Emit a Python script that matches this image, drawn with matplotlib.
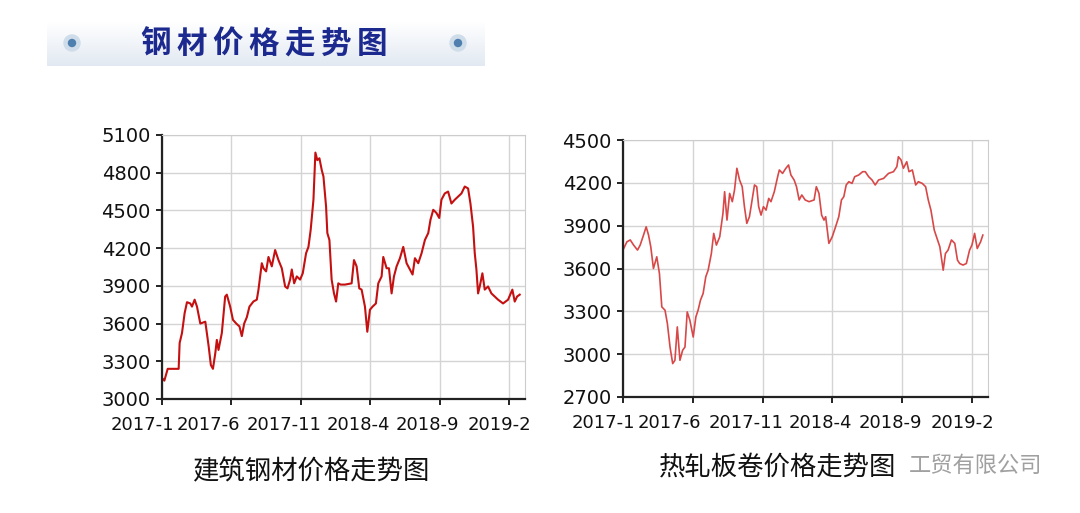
import matplotlib
matplotlib.use("Agg")
import matplotlib.pyplot as plt
from matplotlib.patches import Circle
from matplotlib.colors import LinearSegmentedColormap
from matplotlib.transforms import ScaledTranslation
import numpy as np

plt.rcParams['font.family'] = ['Noto Sans CJK SC', 'DejaVu Sans']

# months counted from 2017-1
tick_pos = [0, 5, 10, 15, 20, 25]
tick_labels = ['2017-1', '2017-6', '2017-11', '2018-4', '2018-9', '2019-2']

# 建筑钢材 price
rebar_m = [0.00, 0.17, 0.41, 1.20, 1.27, 1.44, 1.63, 1.80, 2.04, 2.16,
           2.35, 2.52, 2.76, 3.12, 3.36, 3.52, 3.67, 3.84, 3.95, 4.07,
           4.31, 4.55, 4.67, 4.91, 5.11, 5.35, 5.58, 5.75, 5.92, 6.11,
           6.30, 6.59, 6.83, 6.95, 7.19, 7.31, 7.50, 7.67, 7.91, 8.15,
           8.39, 8.63, 8.87, 9.04, 9.23, 9.35, 9.52, 9.71, 9.95, 10.14,
           10.38, 10.55, 10.71, 10.91, 11.05, 11.19, 11.34, 11.51, 11.63, 11.82,
           11.91, 12.06, 12.22, 12.39, 12.54, 12.70, 12.87, 13.18, 13.66, 13.83,
           14.02, 14.21, 14.38, 14.62, 14.79, 14.98, 15.17, 15.41, 15.58, 15.82,
           15.94, 16.18, 16.35, 16.54, 16.71, 16.90, 17.14, 17.38, 17.62, 17.86,
           18.05, 18.22, 18.46, 18.70, 18.94, 19.18, 19.34, 19.54, 19.77, 19.97,
           20.13, 20.37, 20.61, 20.85, 21.09, 21.33, 21.57, 21.81, 22.05, 22.22,
           22.41, 22.53, 22.65, 22.77, 22.89, 23.08, 23.25, 23.49, 23.73, 23.97,
           24.21, 24.57, 24.93, 25.24, 25.41, 25.58, 25.77]
rebar_p = [3167, 3146, 3240, 3240, 3445, 3525, 3683, 3770, 3760, 3735,
           3790, 3735, 3600, 3615, 3420, 3270, 3240, 3365, 3470, 3390,
           3525, 3815, 3830, 3735, 3630, 3600, 3577, 3500, 3600, 3650,
           3735, 3776, 3790, 3870, 4080, 4040, 4015, 4130, 4055, 4185,
           4105, 4040, 3895, 3880, 3950, 4030, 3920, 3975, 3950, 4000,
           4160, 4210, 4345, 4585, 4960, 4900, 4915, 4820, 4770, 4530,
           4320, 4265, 3950, 3840, 3775, 3920, 3910, 3910, 3920, 4105,
           4055, 3880, 3870, 3735, 3535, 3710, 3735, 3760, 3920, 3975,
           4130, 4040, 4040, 3840, 3975, 4055, 4120, 4210, 4080, 4030,
           3990, 4120, 4080, 4160, 4265, 4320, 4425, 4505, 4480, 4440,
           4585, 4635, 4650, 4555, 4585, 4610, 4635, 4690, 4675, 4555,
           4370, 4160, 4030, 3840, 3895, 4000, 3870, 3895, 3840, 3815,
           3790, 3760, 3790, 3870, 3775, 3815, 3830]

# 热轧板卷 price
hrc_m = [0.05, 0.28, 0.52, 0.76, 1.04, 1.23, 1.47, 1.66, 1.83, 1.99,
         2.18, 2.42, 2.61, 2.78, 3.01, 3.18, 3.37, 3.56, 3.72, 3.89,
         4.08, 4.27, 4.44, 4.60, 4.79, 5.03, 5.22, 5.38, 5.55, 5.74,
         5.93, 6.10, 6.33, 6.50, 6.69, 6.93, 7.16, 7.28, 7.45, 7.64,
         7.83, 7.99, 8.16, 8.35, 8.54, 8.70, 8.87, 9.06, 9.25, 9.42,
         9.58, 9.72, 9.89, 10.06, 10.25, 10.44, 10.60, 10.84, 11.08, 11.20,
         11.43, 11.67, 11.86, 12.03, 12.26, 12.43, 12.62, 12.81, 13.05, 13.33,
         13.69, 13.85, 14.04, 14.23, 14.40, 14.52, 14.75, 14.99, 15.23, 15.46,
         15.65, 15.82, 15.99, 16.18, 16.41, 16.60, 16.89, 17.17, 17.36, 17.60,
         17.84, 18.07, 18.31, 18.67, 19.02, 19.38, 19.62, 19.73, 19.92, 20.09,
         20.33, 20.49, 20.73, 20.97, 21.16, 21.44, 21.68, 21.87, 22.06, 22.30,
         22.46, 22.70, 22.94, 23.10, 23.29, 23.53, 23.77, 23.96, 24.12, 24.36,
         24.60, 24.83, 25.00, 25.19, 25.38, 25.62, 25.78]
hrc_p = [3740, 3787, 3800, 3764, 3729, 3764, 3834, 3892, 3834, 3752,
         3600, 3682, 3565, 3331, 3308, 3214, 3050, 2934, 2957, 3191,
         2957, 3027, 3050, 3296, 3238, 3120, 3261, 3308, 3378, 3425,
         3542, 3588, 3705, 3846, 3764, 3822, 3986, 4138, 3939, 4126,
         4068, 4150, 4302, 4220, 4173, 4033, 3916, 3963, 4080, 4185,
         4173, 4033, 3974, 4033, 4009, 4091, 4068, 4138, 4243, 4290,
         4266, 4302, 4325, 4255, 4220, 4173, 4080, 4115, 4080, 4068,
         4080, 4173, 4126, 3974, 3939, 3963, 3776, 3822, 3892, 3963,
         4080, 4103, 4185, 4208, 4196, 4243, 4255, 4278, 4278, 4243,
         4220, 4185, 4220, 4231, 4266, 4278, 4313, 4383, 4360, 4302,
         4348, 4278, 4290, 4185, 4208, 4196, 4173, 4080, 4009, 3869,
         3822, 3752, 3588, 3705, 3729, 3800, 3776, 3659, 3635, 3624,
         3635, 3729, 3764, 3846, 3740, 3787, 3834]

fig = plt.figure(figsize=(10.8, 5.13), dpi=100)
fig.patch.set_facecolor('white')

# banner
bx = fig.add_axes([47/1080, 1-66/513, 438/1080, 44/513])
grad = np.linspace(0, 1, 100).reshape(-1, 1)
bx.imshow(grad, aspect='auto', cmap=LinearSegmentedColormap.from_list('b', ['#ffffff', '#e2e9f2']),
          extent=[0, 438, 0, 44])
bx.set_xlim(0, 438)
bx.set_ylim(0, 44)
bx.axis('off')
for cx in [25, 411]:
    bx.add_patch(Circle((cx, 23), 8, color='#cfdcea'))
    bx.add_patch(Circle((cx, 23), 3.5, color='#4f7fae'))
for i, ch in enumerate('钢材价格走势图'):
    bx.text(109 + 36*i, 22, ch, ha='center', va='center', fontsize=22, fontweight='bold', color='#1c2a8f')

# shift of x tick labels (pixels), reference labels sit left of their ticks
lab_shift = [-20, -23, -17, -12, -12, -10]


def style(ax, ylim, yticks):
    ax.set_xlim(0, 26.15)
    ax.set_ylim(*ylim)
    ax.set_yticks(yticks)
    ax.set_xticks(tick_pos)
    ax.set_xticklabels(tick_labels)
    ax.grid(True, color='#d4d4d4', lw=1)
    ax.set_axisbelow(True)
    for s in ['top', 'right']:
        ax.spines[s].set_color('#cccccc')
    for s in ['left', 'bottom']:
        ax.spines[s].set_color('#222222')
        ax.spines[s].set_linewidth(1.6)
    ax.tick_params(axis='both', direction='out', length=4, width=1.4, color='#222222',
                   labelcolor='#111111')
    ax.tick_params(axis='x', pad=8, labelsize=13)
    ax.tick_params(axis='y', pad=4, labelsize=14)
    for t in ax.get_xticklabels() + ax.get_yticklabels():
        t.set_family('DejaVu Sans')
    for t, d in zip(ax.get_xticklabels(), lab_shift):
        t.set_transform(t.get_transform() + ScaledTranslation(d/100, 0, fig.dpi_scale_trans))


ax1 = fig.add_axes([162/1080, 1-399/513, 363/1080, 264/513])
ax1.plot(rebar_m, rebar_p, color='#c41010', lw=1.5)
style(ax1, (3000, 5100), [3000, 3300, 3600, 3900, 4200, 4500, 4800, 5100])

ax2 = fig.add_axes([623/1080, 1-397/513, 365/1080, 257/513])
ax2.plot(hrc_m, hrc_p, color='#d84848', lw=1.2)
style(ax2, (2700, 4500), [2700, 3000, 3300, 3600, 3900, 4200, 4500])

fig.text(312/1080, 1-472/513, '建筑钢材价格走势图', ha='center', va='center', fontsize=19, color='#111111')
fig.text(778/1080, 1-467/513, '热轧板卷价格走势图', ha='center', va='center', fontsize=19, color='#111111')
fig.text(1042/1080, 1-466/513, '工贸有限公司', ha='right', va='center', fontsize=16, color='#a0a0a0')

fig.savefig('out.png', dpi=100)
